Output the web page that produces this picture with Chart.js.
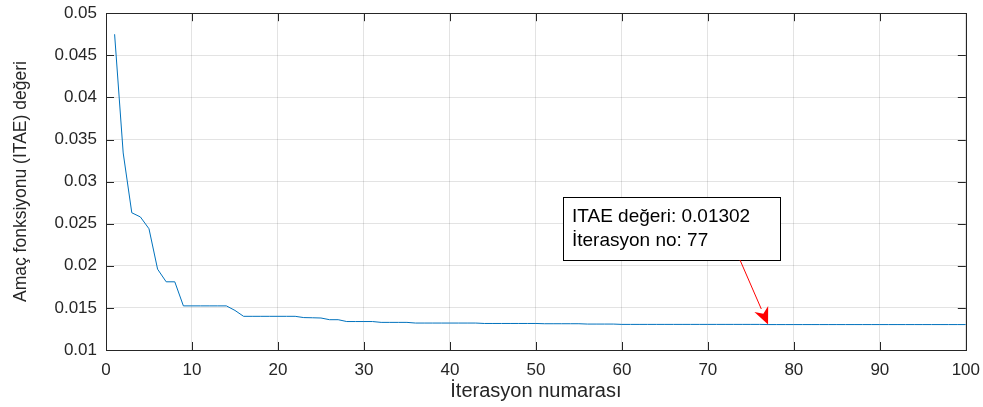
<!DOCTYPE html>
<html>
<head>
<meta charset="utf-8">
<script src="https://cdn.jsdelivr.net/npm/chart.js@4/dist/chart.umd.min.js"></script>
<style>
  html, body { margin: 0; padding: 0; background: #ffffff; }
  #wrap { width: 983px; height: 407px; position: relative; }
</style>
</head>
<body>
<div id="wrap"><canvas id="c" width="983" height="407"></canvas></div>
<script>
// Objective function (ITAE) value per iteration
const iterations = Array.from({ length: 100 }, (_, i) => i + 1);
const itaeValues = [
  0.0475, 0.0334, 0.0263, 0.0258, 0.0244, 0.0196, 0.0181, 0.0181, 0.01524, 0.01524,
  0.01524, 0.01524, 0.01524, 0.01524, 0.0147, 0.0140, 0.0140, 0.0140, 0.0140, 0.0140,
  0.0140, 0.0140, 0.01385, 0.01383, 0.0138, 0.0136, 0.0136, 0.01338, 0.01338, 0.01338,
  0.01338, 0.01328, 0.01328, 0.01328, 0.01328, 0.0132, 0.0132, 0.0132, 0.0132, 0.0132,
  0.0132, 0.0132, 0.0132, 0.01315, 0.01315, 0.01315, 0.01315, 0.01315, 0.01315, 0.01315,
  0.01312, 0.01312, 0.01312, 0.01312, 0.01312, 0.01308, 0.01308, 0.01308, 0.01308, 0.01304,
  0.01304, 0.01304, 0.01304, 0.01304, 0.01304, 0.01304, 0.01304, 0.01304, 0.01304, 0.01304,
  0.01304, 0.01304, 0.01304, 0.01304, 0.01304, 0.01304, 0.01302, 0.01302, 0.01302, 0.01302,
  0.01302, 0.01302, 0.01302, 0.01302, 0.01302, 0.01302, 0.01302, 0.01302, 0.01302, 0.01302,
  0.01302, 0.01302, 0.01302, 0.01302, 0.01302, 0.01302, 0.01302, 0.01302, 0.01302, 0.01302
];
const xTickValues = [0, 10, 20, 30, 40, 50, 60, 70, 80, 90, 100];
const yTickLabels = ['0.01', '0.015', '0.02', '0.025', '0.03', '0.035', '0.04', '0.045', '0.05'];
const markedIteration = 77;
const markedLines = ['ITAE değeri: 0.01302', 'İterasyon no: 77'];

const AXIS_COLOR = '#262626';
const GRID_COLOR = 'rgba(0,0,0,0.11)';
const FONT = '"Liberation Sans", Arial, sans-serif';

// Box frame, inward tick marks and the data-tip callout
const matlabAxes = {
  id: 'matlabAxes',
  afterDatasetsDraw(chart) {
    const { ctx, chartArea: a, scales: { x, y } } = chart;
    ctx.save();
    ctx.strokeStyle = AXIS_COLOR;
    ctx.lineWidth = 1;
    ctx.strokeRect(Math.round(a.left) + 0.5, Math.round(a.top) + 0.5,
                   Math.round(a.right - a.left), Math.round(a.bottom - a.top));
    const tl = 8;
    ctx.beginPath();
    xTickValues.forEach(v => {
      const px = Math.round(x.getPixelForValue(v)) + 0.5;
      ctx.moveTo(px, a.bottom); ctx.lineTo(px, a.bottom - tl);
      ctx.moveTo(px, a.top); ctx.lineTo(px, a.top + tl);
    });
    yTickLabels.forEach(s => {
      const py = Math.round(y.getPixelForValue(parseFloat(s))) + 0.5;
      ctx.moveTo(a.left, py); ctx.lineTo(a.left + tl, py);
      ctx.moveTo(a.right, py); ctx.lineTo(a.right - tl, py);
    });
    ctx.stroke();

    // callout
    const idx = iterations.indexOf(markedIteration);
    const tx = x.getPixelForValue(markedIteration);
    const ty = y.getPixelForValue(itaeValues[idx]);
    const box = { left: 563, top: 197, w: 217, h: 63 };
    ctx.fillStyle = '#ffffff';
    ctx.fillRect(box.left, box.top, box.w, box.h);
    ctx.strokeStyle = '#000000';
    ctx.strokeRect(box.left + 0.5, box.top + 0.5, box.w, box.h);
    ctx.fillStyle = '#000000';
    ctx.font = '19px ' + FONT;
    ctx.textBaseline = 'alphabetic';
    ctx.textAlign = 'left';
    ctx.fillText(markedLines[0], box.left + 9, box.top + 25);
    ctx.fillText(markedLines[1], box.left + 9, box.top + 49);

    // arrow
    const sx = 740, sy = box.top + box.h;
    const ang = Math.atan2(ty - sy, tx - sx);
    const hl = 17, hw = 7.5;
    const bx = tx - hl * Math.cos(ang), by = ty - hl * Math.sin(ang);
    ctx.strokeStyle = '#ff0000';
    ctx.fillStyle = '#ff0000';
    ctx.beginPath();
    ctx.moveTo(sx, sy); ctx.lineTo(bx, by);
    ctx.stroke();
    const nx = -Math.sin(ang), ny = Math.cos(ang);
    const ix = tx - 0.7 * hl * Math.cos(ang), iy = ty - 0.7 * hl * Math.sin(ang);
    ctx.beginPath();
    ctx.moveTo(tx, ty);
    ctx.lineTo(bx + nx * hw, by + ny * hw);
    ctx.lineTo(ix, iy);
    ctx.lineTo(bx - nx * hw, by - ny * hw);
    ctx.closePath();
    ctx.fill();
    ctx.restore();
  }
};

new Chart(document.getElementById('c'), {
  type: 'line',
  data: {
    labels: iterations,
    datasets: [{
      data: iterations.map((it, i) => ({ x: it, y: itaeValues[i] })),
      borderColor: '#0072BD',
      borderWidth: 1,
      pointRadius: 0,
      tension: 0,
      fill: false
    }]
  },
  options: {
    responsive: false,
    animation: false,
    devicePixelRatio: 1,
    layout: { autoPadding: false, padding: { top: 13, right: 17, left: 0, bottom: 0 } },
    plugins: { legend: { display: false }, tooltip: { enabled: false } },
    scales: {
      x: {
        type: 'linear',
        min: 0, max: 100,
        afterBuildTicks(scale) { scale.ticks = xTickValues.map(v => ({ value: v })); },
        afterFit(scale) { scale.height = 57; },
        grid: { color: GRID_COLOR, tickColor: 'rgba(0,0,0,0)', tickLength: 7 },
        border: { display: false },
        ticks: {
          color: AXIS_COLOR, font: { family: FONT, size: 17 },
          autoSkip: false,
          callback: v => String(v)
        },
        title: {
          display: true, text: 'İterasyon numarası', color: AXIS_COLOR,
          font: { family: FONT, size: 20 }, padding: { top: 0, bottom: 4 }
        }
      },
      y: {
        type: 'linear',
        min: 0.01, max: 0.05,
        afterBuildTicks(scale) { scale.ticks = yTickLabels.map(s => ({ value: parseFloat(s) })); },
        afterFit(scale) { scale.width = 106; },
        grid: { color: GRID_COLOR, tickColor: 'rgba(0,0,0,0)', tickLength: 6 },
        border: { display: false },
        ticks: {
          color: AXIS_COLOR, font: { family: FONT, size: 17 },
          autoSkip: false,
          callback: (v, i) => yTickLabels[i]
        },
        title: {
          display: true, text: 'Amaç fonksiyonu (ITAE) değeri', color: AXIS_COLOR,
          font: { family: FONT, size: 17.5 }, padding: { top: 11, bottom: 0 }
        }
      }
    }
  },
  plugins: [matlabAxes]
});
</script>
</body>
</html>
